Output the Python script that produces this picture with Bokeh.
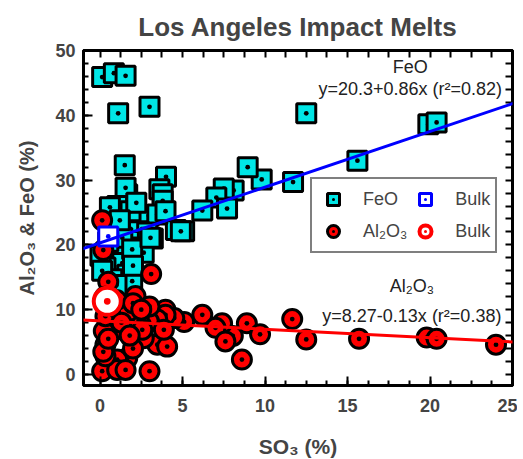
from bokeh.plotting import figure
from bokeh.models import (Label, LinearAxis, Legend, LegendItem,
                          Range1d, FixedTicker, Slope)
from bokeh.embed import file_html
from bokeh.resources import INLINE

# ---- data ----
feo_x = [0.13, 0.84, 1.55, 1.1, 3.0, 1.5, 4.0, 12.5, 19.9, 20.4, 15.6, 11.7, 9.8, 8.95,
         8.1, 7.5, 7.05, 7.7, 6.2, 5.1, 4.6, 3.6, 3.8, 3.8, 3.2, 1.1, 1.5, 1.95, 1.65,
         1.55, 2.45, 2.96, 3.47, 3.97, 2.35, 2.86, 1.14, 1.75, 2.35, 2.65, 0.94, 1.04,
         1.85, 1.35, 1.35, 0.33, 1.65, 1.95, 0.74, 0.03, 0.13, 1.95, 3.06, 4.9, 2.2,
         0.6, 1.2, 0.5, 2.0, 1.0]
feo_y = [45.9, 46.5, 46.1, 40.3, 41.3, 32.3, 30.5, 40.3, 38.6, 38.9, 33.0, 29.7, 30.1, 32.0,
         28.4, 28.7, 27.3, 25.6, 25.3, 22.1, 22.3, 28.6, 27.8, 26.8, 21.0, 25.7, 23.1, 25.0, 27.8,
         28.8, 23.9, 24.5, 24.7, 25.2, 22.1, 21.9, 19.6, 20.6, 19.6, 18.8, 18.5, 26.0,
         25.2, 21.1, 17.2, 16.5, 15.4, 14.4, 14.7, 18.3, 16.0, 19.3, 21.1, 22.1, 26.5,
         25.8, 23.8, 20.5, 16.8, 13.8]

al_x = [0.13, 0.2, 3.1, 0.5, 2.15, 3.97, 6.2, 11.65, 12.5, 8.9, 9.7, 8.05, 7.4, 7.0, 7.6,
        8.6, 5.1, 4.5, 3.97, 3.47, 2.96, 2.35, 1.55, 0.94, 0.23, 0.33, 3.47, 4.07, 2.65,
        1.65, 1.04, 0.13, 1.04, 1.55, 3.0, 0.33, 1.14, 1.75, 0.33, 3.87, 2.56, 15.7, 19.8,
        20.4, 24.0, 0.3, 1.0, 2.0, 1.3, 0.2, 0.5, 2.0, 1.8, 3.0, 2.5]
al_y = [23.8, 19.2, 15.5, 14.3, 12.1, 10.0, 9.2, 8.55, 5.4, 7.9, 6.2, 5.95, 7.9, 7.2, 5.1,
        2.3, 8.1, 8.7, 9.2, 8.5, 8.2, 8.7, 7.4, 6.9, 6.7, 4.6, 4.6, 4.3, 5.6,
        2.5, 2.3, 0.5, 0.7, 0.7, 0.5, 9.0, 10.0, 9.8, 2.8, 6.9, 6.9, 5.5, 5.7,
        5.5, 4.6, 12.0, 11.5, 11.0, 8.0, 3.5, 5.5, 4.0, 6.0, 10.5, 10.0]

bulk_feo_x = [0.5]
bulk_feo_y = [21.3]
bulk_al_x = [0.44]
bulk_al_y = [11.3]

feo_fit = (20.3, 0.86)    # intercept, slope
al_fit = (8.27, -0.13)

x_major = [0, 5, 10, 15, 20, 25]
y_major = [0, 10, 20, 30, 40, 50]
x_minor = [i * 1.25 for i in range(0, 21)]
y_minor = list(range(0, 52, 2))

FONT = "Liberation Sans"

p = figure(frame_width=429, frame_height=335, output_backend="svg", toolbar_location=None,
           x_range=Range1d(-1, 25), y_range=Range1d(-1.7, 50),
           min_border_left=83, min_border_right=5, min_border_top=50, min_border_bottom=60,
           title="Los Angeles Impact Melts")
p.title.text_font = FONT
p.title.text_font_size = "26px"
p.title.text_font_style = "bold"
p.title.align = "center"
p.title.standoff = 17
p.grid.visible = False
p.outline_line_color = "black"
p.outline_line_width = 3
p.background_fill_color = "white"
p.border_fill_color = "white"

xt = FixedTicker(ticks=x_major, minor_ticks=x_minor)
yt = FixedTicker(ticks=y_major, minor_ticks=y_minor)

def style_axis(ax):
    ax.axis_line_width = 3
    ax.axis_line_color = "black"
    ax.major_tick_in = 9
    ax.major_tick_out = 0
    ax.minor_tick_in = 5
    ax.minor_tick_out = 0
    ax.major_tick_line_width = 2
    ax.minor_tick_line_width = 2
    ax.major_label_text_font = FONT
    ax.major_label_text_font_style = "bold"
    ax.major_label_text_font_size = "18px"
    ax.axis_label_text_font = FONT
    ax.axis_label_text_font_style = "bold"
    ax.axis_label_text_font_size = "20px"

p.xaxis.ticker = xt
p.yaxis.ticker = yt
style_axis(p.xaxis[0])
style_axis(p.yaxis[0])
p.xaxis.major_label_standoff = 13
p.yaxis.major_label_standoff = 8
p.xaxis.axis_label = "SO₃ (%)"
p.yaxis.axis_label = "Al₂O₃ & FeO (%)"
p.xaxis.axis_label_text_font_size = "21px"
p.xaxis.axis_label_standoff = 20
p.yaxis.axis_label_standoff = 14

# top / right axes: tick marks only (drawn as minor ticks so no labels are produced)
top = LinearAxis(ticker=FixedTicker(ticks=[], minor_ticks=x_minor))
right = LinearAxis(ticker=FixedTicker(ticks=[], minor_ticks=y_minor))
for ax in (top, right):
    ax.axis_line_width = 3
    ax.axis_line_color = "black"
    ax.minor_tick_in = 7
    ax.minor_tick_out = 0
    ax.minor_tick_line_width = 2
    ax.major_tick_in = 0
    ax.major_tick_out = 0
p.add_layout(top, "above")
p.add_layout(right, "right")

# fit lines
p.add_layout(Slope(gradient=feo_fit[1], y_intercept=feo_fit[0], line_color="#0000ff", line_width=3))
p.add_layout(Slope(gradient=al_fit[1], y_intercept=al_fit[0], line_color="#ff0000", line_width=3))

r_feo = p.scatter(feo_x, feo_y, marker="square_dot", size=19, fill_color="#00e6e6",
                  line_color="black", line_width=3)
r_al = p.scatter(al_x, al_y, marker="circle_dot", size=19, fill_color="#ff0000",
                 line_color="black", line_width=3)
r_bf = p.scatter(bulk_feo_x, bulk_feo_y, marker="square_dot", size=19, fill_color="white",
                 line_color="#0000ff", line_width=3)
r_ba = p.scatter(bulk_al_x, bulk_al_y, marker="circle_dot", size=27, fill_color="white",
                 line_color="#ff0000", line_width=4)

legend = Legend(items=[LegendItem(label="FeO", renderers=[r_feo]),
                       LegendItem(label="Al₂O₃", renderers=[r_al]),
                       LegendItem(label="Bulk", renderers=[r_bf]),
                       LegendItem(label="Bulk", renderers=[r_ba])],
                ncols=2, location=(227, 132), label_text_font=FONT, label_text_font_size="18px",
                glyph_width=32, glyph_height=30, label_standoff=14, spacing=2, padding=5,
                border_line_color="black", border_line_width=2, background_fill_alpha=1)
p.add_layout(legend, "center")

def lab(x, y, t):
    p.add_layout(Label(x=x, y=y, text=t, text_font=FONT, text_font_size="18px",
                       text_align="center", text_baseline="middle", text_color="#222222"))

lab(18.8, 47.5, "FeO")
lab(18.8, 44.0, "y=20.3+0.86x (r²=0.82)")
lab(18.9, 13.7, "Al₂O₃")
lab(18.9, 9.0, "y=8.27-0.13x (r²=0.38)")

open("out.html", "w").write(file_html(p, INLINE))
